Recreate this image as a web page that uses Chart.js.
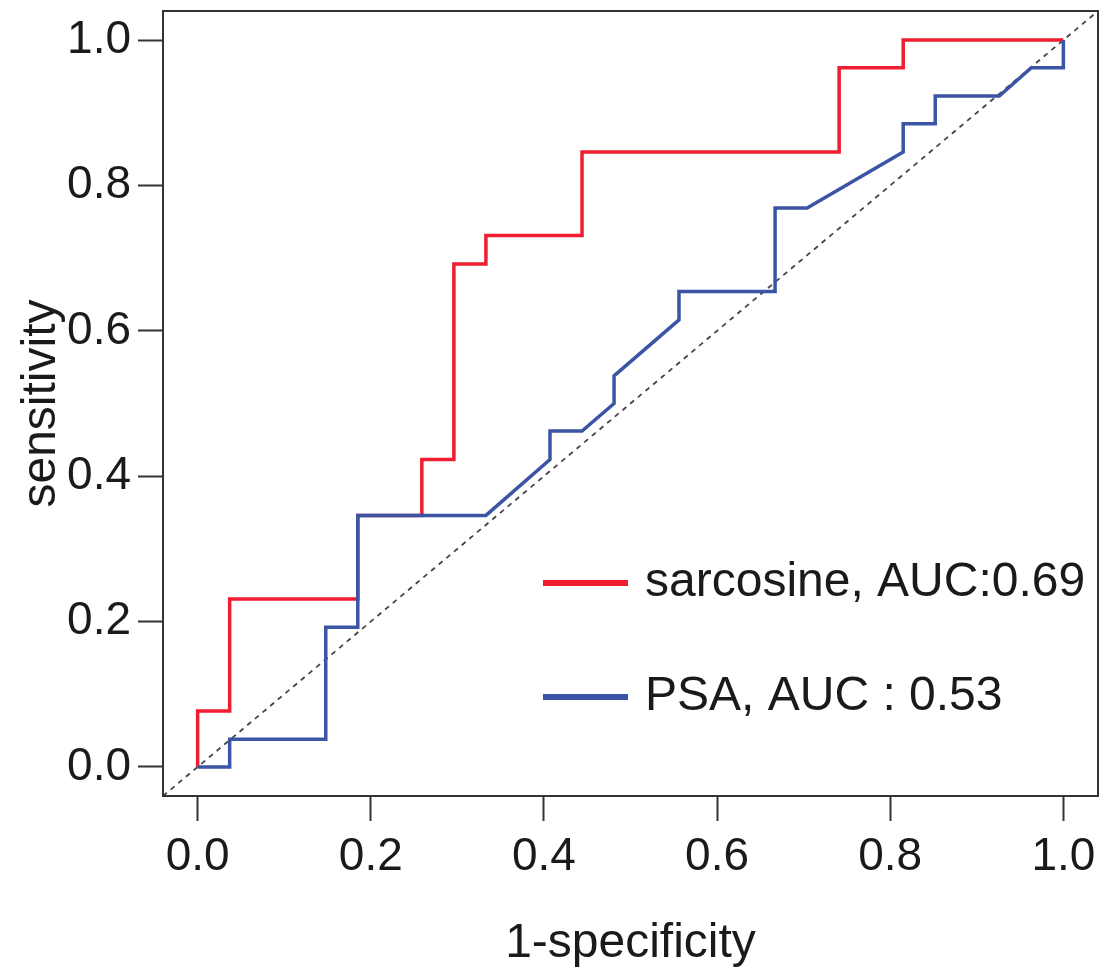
<!DOCTYPE html>
<html>
<head>
<meta charset="utf-8">
<script src="https://cdn.jsdelivr.net/npm/chart.js@4.4.0/dist/chart.umd.min.js"></script>
<style>
  body { margin: 0; background: #fff; }
  #wrap { width: 1112px; height: 973px; }
</style>
</head>
<body>
<div id="wrap"><canvas id="roc"></canvas></div>
<script>
// ROC curves (1-specificity, sensitivity)
const sarcFpr = [0, 0, 0.037, 0.037, 0.185, 0.185, 0.259, 0.259, 0.296, 0.296, 0.333, 0.333, 0.444, 0.444, 0.741, 0.741, 0.815, 0.815, 1];
const sarcTpr = [0, 0.077, 0.077, 0.231, 0.231, 0.346, 0.346, 0.423, 0.423, 0.692, 0.692, 0.731, 0.731, 0.846, 0.846, 0.962, 0.962, 1, 1];

const psaFpr = [0, 0.037, 0.037, 0.148, 0.148, 0.185, 0.185, 0.333, 0.407, 0.407, 0.444, 0.481, 0.481, 0.556, 0.556, 0.667, 0.667, 0.704, 0.815, 0.815, 0.852, 0.852, 0.926, 0.963, 1, 1];
const psaTpr = [0, 0, 0.038, 0.038, 0.192, 0.192, 0.346, 0.346, 0.423, 0.462, 0.462, 0.5, 0.538, 0.615, 0.654, 0.654, 0.769, 0.769, 0.846, 0.885, 0.885, 0.923, 0.923, 0.962, 0.962, 1];

const seriesLabels = ["sarcosine, AUC:0.69", "PSA, AUC : 0.53"];
const axisRange = [-0.04, 1.04];
const xTicks = [0, 0.2, 0.4, 0.6, 0.8, 1.0];
const yTicks = [0, 0.2, 0.4, 0.6, 0.8, 1.0];

const RED = "#ee1d30";
const BLUE = "#3b54a5";
const INK = "#1a1a1a";
const FONT = "'Liberation Sans', Arial, sans-serif";

const toPoints = (xs, ys) => xs.map((x, i) => ({ x: x, y: ys[i] }));

// box around the plot + legend drawn inside it
const boxAndLegend = {
  id: "boxAndLegend",
  afterDraw(chart) {
    const { ctx, chartArea: a } = chart;
    ctx.save();
    ctx.strokeStyle = "#333";
    ctx.lineWidth = 2;
    ctx.strokeRect(a.left, a.top, a.right - a.left, a.bottom - a.top);

    const rows = [
      { ds: chart.data.datasets[0], y: a.top + 572 },
      { ds: chart.data.datasets[1], y: a.top + 686 }
    ];
    const x0 = a.left + 380;
    ctx.font = "48px " + FONT;
    ctx.textBaseline = "middle";
    ctx.fillStyle = INK;
    rows.forEach(r => {
      ctx.strokeStyle = r.ds.borderColor;
      ctx.lineWidth = 6;
      ctx.beginPath();
      ctx.moveTo(x0, r.y);
      ctx.lineTo(x0 + 85, r.y);
      ctx.stroke();
      ctx.fillText(r.ds.label, x0 + 102, r.y);
    });
    ctx.restore();
  }
};

const axisCommon = (ticks, title, fit) => ({
  type: "linear",
  min: axisRange[0],
  max: axisRange[1],
  afterBuildTicks: s => { s.ticks = ticks.map(v => ({ value: v })); },
  afterFit: fit,
  ticks: {
    callback: v => Number(v).toFixed(1),
    font: { size: 46, family: FONT },
    color: INK,
    autoSkip: false,
    maxRotation: 0
  },
  grid: { drawOnChartArea: false, drawTicks: true, tickLength: 25, tickColor: "#333", tickWidth: 2 },
  border: { display: true, color: "#333", width: 2 },
  title: { display: true, text: title, color: INK, font: { size: 48, family: FONT } }
});

const xScale = axisCommon(xTicks, "1-specificity", s => {
  s.height = 177;
  s.paddingLeft = 0;
  s.paddingRight = 0;
});
xScale.ticks.padding = 9;
xScale.title.padding = { top: 0, bottom: 0 };

const yScale = axisCommon(yTicks, "sensitivity", s => {
  s.width = 163;
  s.paddingTop = 0;
  s.paddingBottom = 0;
});
yScale.ticks.padding = 7;
yScale.title.padding = { top: 13, bottom: 0 };

new Chart(document.getElementById("roc"), {
  type: "scatter",
  data: {
    datasets: [
      {
        label: seriesLabels[0],
        data: toPoints(sarcFpr, sarcTpr),
        showLine: true,
        borderColor: RED,
        borderWidth: 3.5,
        pointRadius: 0,
        order: 1
      },
      {
        label: seriesLabels[1],
        data: toPoints(psaFpr, psaTpr),
        showLine: true,
        borderColor: BLUE,
        borderWidth: 3.5,
        pointRadius: 0,
        order: 0
      },
      {
        label: "chance",
        data: toPoints(axisRange, axisRange),
        showLine: true,
        borderColor: "#444",
        borderWidth: 1.8,
        borderDash: [5, 5],
        pointRadius: 0,
        order: 2
      }
    ]
  },
  options: {
    responsive: true,
    maintainAspectRatio: false,
    animation: false,
    layout: { padding: { top: 11, right: 14, left: 0, bottom: 0 } },
    plugins: {
      legend: { display: false },
      tooltip: { enabled: false }
    },
    scales: { x: xScale, y: yScale }
  },
  plugins: [boxAndLegend]
});
</script>
</body>
</html>
